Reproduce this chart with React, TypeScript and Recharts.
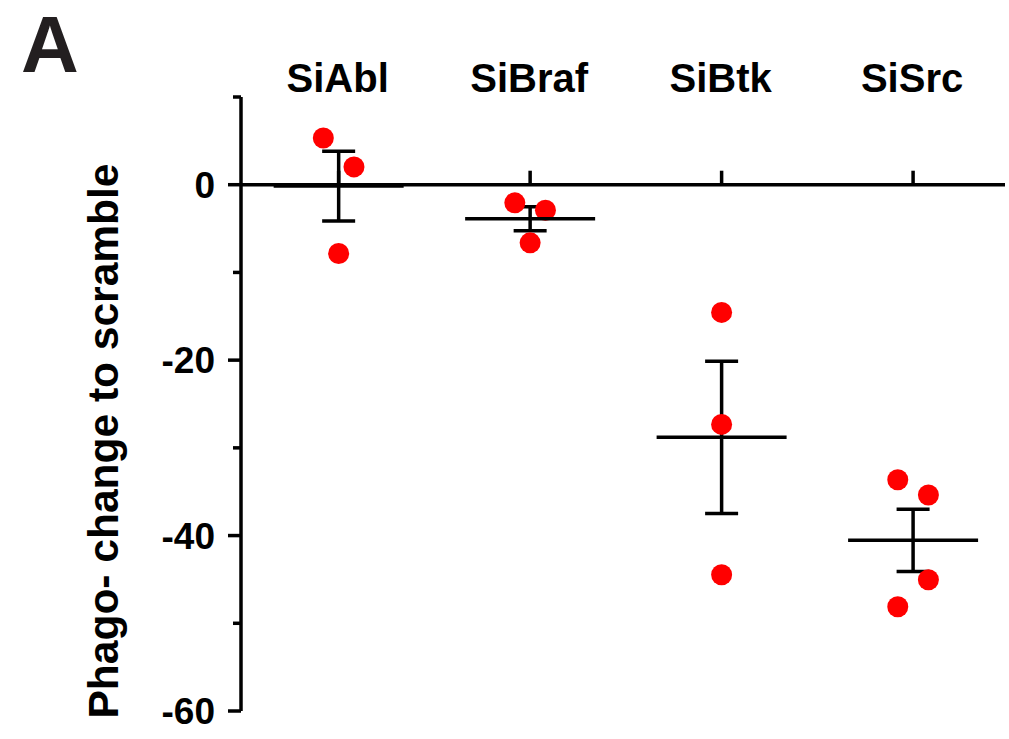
import React from "react";
import {
  ScatterChart,
  Scatter,
  XAxis,
  YAxis,
  ErrorBar,
  ReferenceLine,
  ReferenceDot,
} from "recharts";

const categories = ["SiAbl", "SiBraf", "SiBtk", "SiSrc"];

// individual replicate values per knockdown
const pointValues = [
  [5.33, 2.03, -7.84],
  [-2.07, -2.91, -6.63],
  [-14.56, -27.33, -44.47],
  [-33.64, -35.38, -45.04, -48.11],
];
// jitter slot of each replicate (-1 left, 0 centre, 1 right)
const pointSlots = [
  [-1, 1, 0],
  [-1, 1, 0],
  [0, 0, 0],
  [-1, 1, 1, -1],
];
const means = [-0.16, -3.87, -28.8, -40.54];
const sems = [3.98, 1.37, 8.68, 3.55];

const yTicks = [-60, -50, -40, -30, -20, -10, 0, 10];
const yLabelled = [-60, -40, -20, 0];

const JITTER = 0.08;
const FONT = "'Liberation Sans', Arial, sans-serif";
const SW = 3.5;

const dots = pointValues.flatMap((vals, i) =>
  vals.map((v, j) => ({ x: i + 1 + pointSlots[i][j] * JITTER, y: v }))
);
const meanData = means.map((m, i) => ({ x: i + 1, y: m, err: sems[i] }));

const RedDot = (p: any) => <circle cx={p.cx} cy={p.cy} r={10.5} fill="#ff0000" />;

const MeanLine = (p: any) => (
  <line x1={p.cx - 65} y1={p.cy} x2={p.cx + 65} y2={p.cy} stroke="#000" strokeWidth={SW} />
);

const CatTick = (p: any) => (
  <text x={p.x - 1} y={p.y - 5} textAnchor="middle" fontFamily={FONT} fontWeight="bold" fontSize={40} fill="#000">
    {categories[p.payload.value - 1]}
  </text>
);

const YTick = (p: any) => {
  const v = p.payload.value;
  const major = yLabelled.includes(v);
  return (
    <g>
      <line x1={p.x - (major ? 13 : 8)} y1={p.y} x2={p.x} y2={p.y} stroke="#000" strokeWidth={SW} />
      {major && (
        <text x={p.x - 26} y={p.y} dy="0.36em" textAnchor="end" fontFamily={FONT} fontWeight="bold" fontSize={37} fill="#000">
          {v}
        </text>
      )}
    </g>
  );
};

const YTitle = (p: any) => {
  const vb = p.viewBox;
  const cy = vb.y + vb.height / 2 + 37;
  return (
    <text x={118} y={cy} transform={`rotate(-90, 118, ${cy})`} textAnchor="middle" fontFamily={FONT} fontWeight="bold" fontSize={42.5} fill="#000">
      Phago- change to scramble
    </text>
  );
};

const CatMark = (p: any) => (
  <line x1={p.cx} y1={p.cy} x2={p.cx} y2={p.cy - 14} stroke="#000" strokeWidth={SW} />
);

export default function App() {
  return (
    <div style={{ position: "absolute", left: 0, top: 0, width: 1009, height: 739, background: "#fff" }}>
      <div
        style={{
          position: "absolute",
          left: 21,
          top: 5,
          fontFamily: FONT,
          fontWeight: "bold",
          fontSize: 80,
          lineHeight: "80px",
          color: "#231f20",
        }}
      >
        A
      </div>
      <ScatterChart width={1009} height={739} margin={{ top: 0, right: 4, bottom: 28, left: 0 }}>
        <XAxis
          type="number"
          dataKey="x"
          orientation="top"
          domain={[0.49, 4.48]}
          allowDataOverflow
          ticks={[1, 2, 3, 4]}
          height={97}
          axisLine={false}
          tickLine={false}
          tickSize={0}
          tickMargin={0}
          tick={<CatTick />}
        />
        <YAxis
          type="number"
          dataKey="y"
          domain={[-60, 10]}
          allowDataOverflow
          ticks={yTicks}
          width={241}
          axisLine={{ stroke: "#000", strokeWidth: SW }}
          tickLine={false}
          tickSize={0}
          tickMargin={0}
          tick={<YTick />}
          label={{ content: <YTitle /> }}
        />
        <ReferenceLine y={0} stroke="#000" strokeWidth={SW} />
        {categories.map((c, i) => (
          <ReferenceDot key={c} x={i + 1} y={0} shape={<CatMark />} />
        ))}
        <Scatter data={dots} shape={<RedDot />} isAnimationActive={false} />
        <Scatter data={meanData} shape={<MeanLine />} isAnimationActive={false}>
          <ErrorBar dataKey="err" direction="y" width={16.5} stroke="#000" strokeWidth={SW} isAnimationActive={false} />
        </Scatter>
      </ScatterChart>
    </div>
  );
}
